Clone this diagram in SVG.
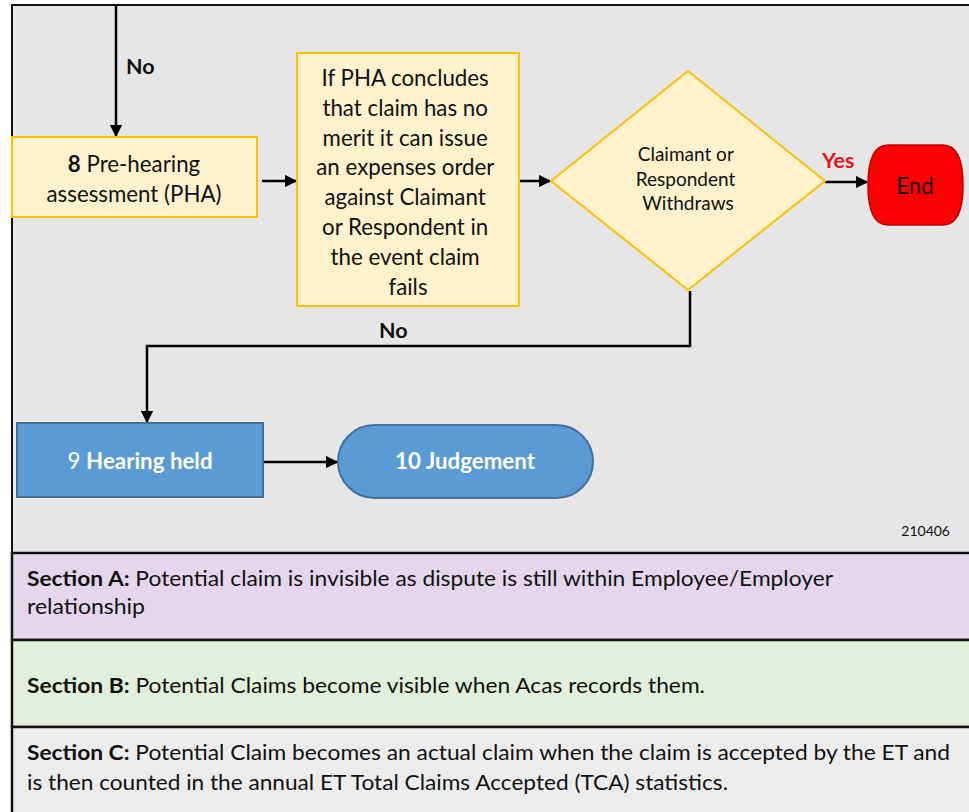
<svg xmlns="http://www.w3.org/2000/svg" width="969" height="812" viewBox="0 0 969 812">
  <style>
    text { font-family: Lato, "Liberation Sans", sans-serif; fill: #111; }
    .proc { fill: #fff2cc; stroke: #ffc000; stroke-width: 2; }
    .blue { fill: #5b9bd5; stroke: #41719c; stroke-width: 2; }
    .wire { fill: none; stroke: #000; stroke-width: 2.5; }
    .t20 { font-size: 22.3px; }
    .t16 { font-size: 19px; }
    .sec { font-size: 21px; }
    .lbl { font-size: 21.5px; font-weight: bold; }
    .b { font-weight: bold; }
    .white { fill: #fff; }
    .band { stroke: #111; stroke-width: 2.5; }
  </style>
  <defs>
    <marker id="arrow" viewBox="0 0 10 10" refX="9" refY="5" markerWidth="5" markerHeight="5" orient="auto" markerUnits="strokeWidth">
      <path d="M0,0 L10,5 L0,10 z" fill="#000"/>
    </marker>
  </defs>

  <!-- backgrounds: flow area and three section bands -->
  <rect x="12" y="5" width="965" height="548" fill="#e6e6e6" stroke="#111" stroke-width="2"/>
  <rect class="band" x="12" y="553" width="965" height="87" fill="#e4d7ec"/>
  <rect class="band" x="12" y="640" width="965" height="87" fill="#e2efda"/>
  <rect class="band" x="12" y="727" width="965" height="95" fill="#ececec"/>

  <!-- connectors -->
  <g id="connectors">
    <path class="wire" d="M116,5 V136" marker-end="url(#arrow)"/>
    <path class="wire" d="M262,181 H296" marker-end="url(#arrow)"/>
    <path class="wire" d="M519,181 H550" marker-end="url(#arrow)"/>
    <path class="wire" d="M825,182 H867" marker-end="url(#arrow)"/>
    <path class="wire" d="M690,291 V346 H147 V422" marker-end="url(#arrow)"/>
    <path class="wire" d="M263,462 H337" marker-end="url(#arrow)"/>
    <text class="lbl" x="126" y="74">No</text>
    <text class="lbl" x="379" y="338">No</text>
    <text class="lbl" x="822" y="168" style="fill:#e8141c">Yes</text>
  </g>

  <g id="node-pha">
    <rect class="proc" x="12" y="137" width="245" height="80"/>
    <text class="t20" x="134" y="172" text-anchor="middle"><tspan class="b">8</tspan> Pre-hearing</text>
    <text class="t20" x="134" y="202" text-anchor="middle">assessment (PHA)</text>
  </g>

  <g id="node-expenses">
    <rect class="proc" x="297" y="53" width="222" height="253"/>
    <text class="t20" text-anchor="middle">
      <tspan x="408" y="86">If PHA concludes</tspan>
      <tspan x="408" y="116">that claim has no</tspan>
      <tspan x="408" y="146">merit it can issue</tspan>
      <tspan x="408" y="175">an expenses order</tspan>
      <tspan x="408" y="205">against Claimant</tspan>
      <tspan x="408" y="235">or Respondent in</tspan>
      <tspan x="408" y="265">the event claim</tspan>
      <tspan x="408" y="295">fails</tspan>
    </text>
  </g>

  <g id="node-withdraw">
    <polygon class="proc" points="688,71 825,181 688,290 551,181"/>
    <text class="t16" text-anchor="middle">
      <tspan x="688" y="161">Claimant or</tspan>
      <tspan x="688" y="186">Respondent</tspan>
      <tspan x="688" y="210">Withdraws</tspan>
    </text>
  </g>

  <g id="node-end">
    <path d="M888,145 H943 Q963,145 963,185 Q963,225 943,225 H888 Q868,225 868,185 Q868,145 888,145 z" fill="#ff0000" stroke="#c00000" stroke-width="1.5"/>
    <text class="t20" x="915" y="194" text-anchor="middle">End</text>
  </g>

  <g id="node-hearing">
    <rect class="blue" x="17" y="423" width="246" height="74"/>
    <text class="t20 white" x="140" y="469" text-anchor="middle">9 <tspan class="b">Hearing held</tspan></text>
  </g>

  <g id="node-judgement">
    <rect class="blue" x="338" y="425" width="255" height="73" rx="36.5"/>
    <text class="t20 white b" x="465" y="469" text-anchor="middle">10 Judgement</text>
  </g>

  <text x="950" y="536" font-size="14" text-anchor="end">210406</text>

  <!-- section notes -->
  <g id="section-a">
    <text class="sec" x="27" y="586" textLength="806" lengthAdjust="spacingAndGlyphs"><tspan class="b">Section A:</tspan> Potential claim is invisible as dispute is still within Employee/Employer</text>
    <text class="sec" x="27" y="614" textLength="118" lengthAdjust="spacingAndGlyphs">relationship</text>
  </g>
  <g id="section-b">
    <text class="sec" x="27" y="693" textLength="678" lengthAdjust="spacingAndGlyphs"><tspan class="b">Section B:</tspan> Potential Claims become visible when Acas records them.</text>
  </g>
  <g id="section-c">
    <text class="sec" x="27" y="760" textLength="923" lengthAdjust="spacingAndGlyphs"><tspan class="b">Section C:</tspan> Potential Claim becomes an actual claim when the claim is accepted by the ET and</text>
    <text class="sec" x="27" y="790" textLength="701" lengthAdjust="spacingAndGlyphs">is then counted in the annual ET Total Claims Accepted (TCA) statistics.</text>
  </g>
</svg>
